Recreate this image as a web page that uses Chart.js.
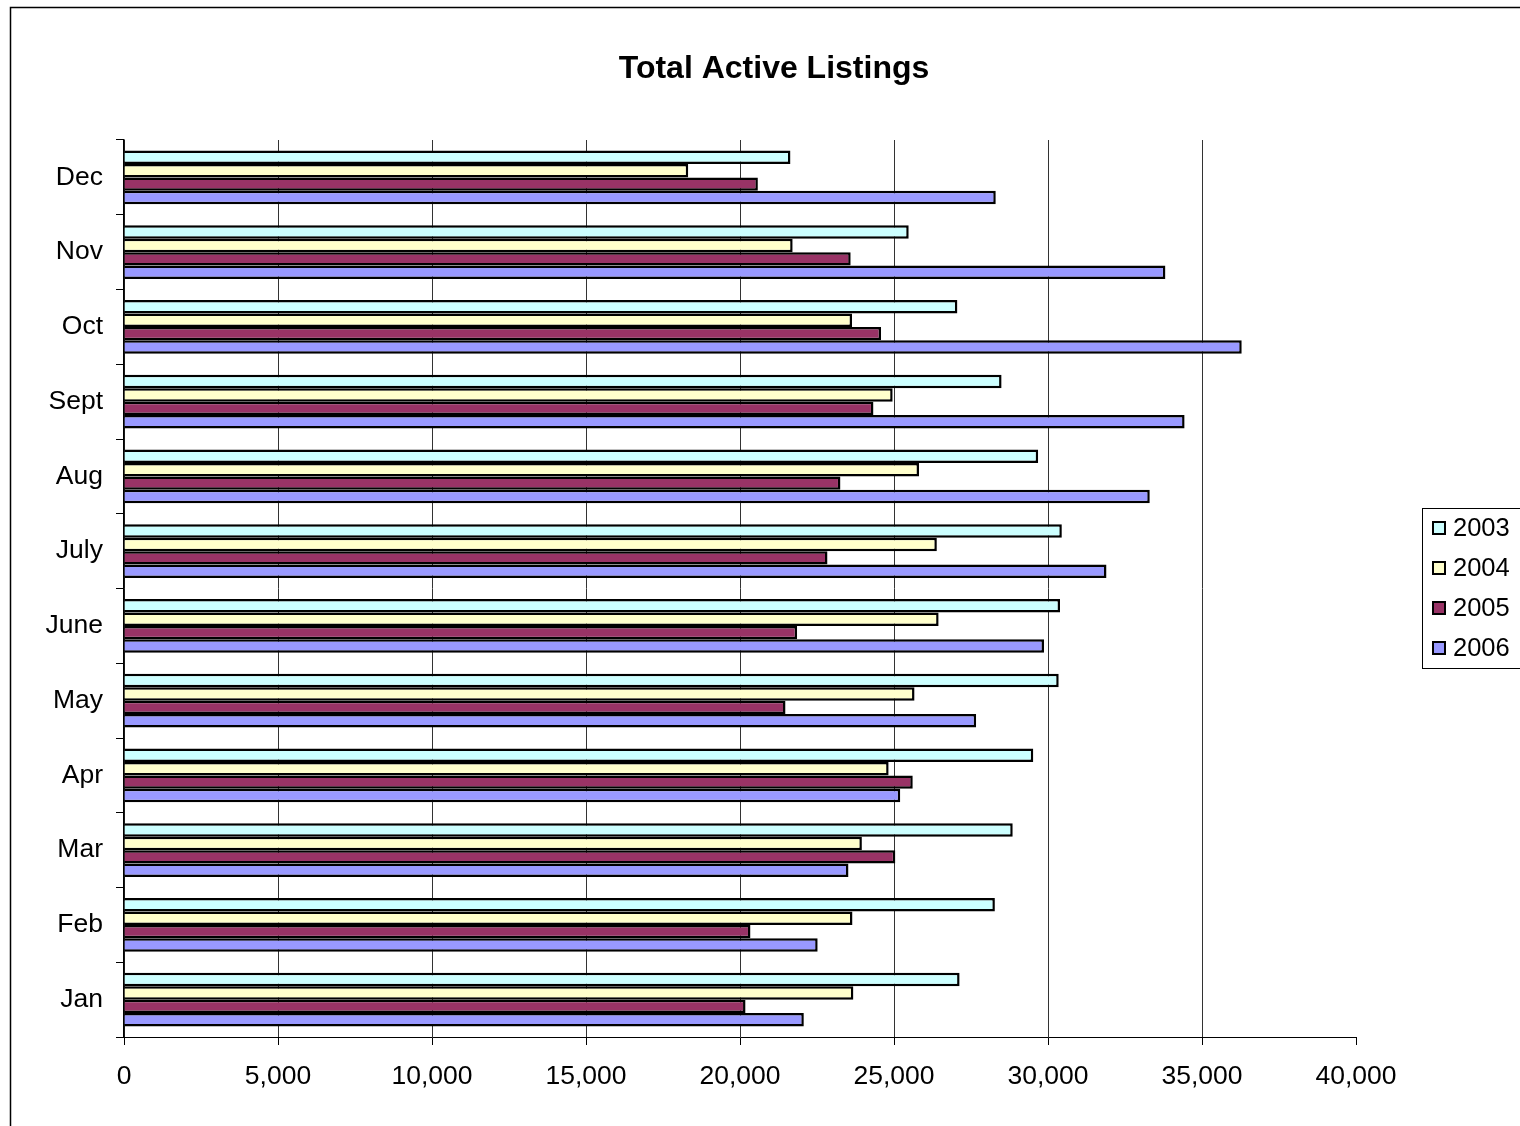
<!DOCTYPE html>
<html>
<head>
<meta charset="utf-8">
<script src="https://cdn.jsdelivr.net/npm/chart.js@4"></script>
<style>
  html, body { margin: 0; padding: 0; background: #fff; overflow: hidden; width: 1520px; height: 1126px; }
  #c { display: block; }
</style>
</head>
<body>
<canvas id="c" width="1548" height="1126"></canvas>
<script>
const months = ['Jan','Feb','Mar','Apr','May','June','July','Aug','Sept','Oct','Nov','Dec'];
const seriesNames = ['2003','2004','2005','2006'];
const v2003 = [27130, 28275, 28855, 29522, 30348, 30391, 30449, 29681, 28493, 27058, 25478, 21638];
const v2004 = [23681, 23652, 23957, 24826, 25667, 26449, 26391, 25812, 24957, 23638, 21710, 18319];
const v2005 = [20180, 20340, 25043, 25609, 21478, 21855, 22841, 23261, 24333, 24580, 23594, 20580];
const v2006 = [22072, 22522, 23522, 25203, 27667, 29870, 31899, 33304, 34435, 36290, 33812, 28304];
const xTicksMin = 0, xTicksMax = 40000, xTickStep = 5000;

const FONT = '"Liberation Sans", Arial, Helvetica, sans-serif';
const colors = ['#CCFFFF', '#FFFFCC', '#993366', '#9999FF'];

const framePlugin = {
  id: 'frame',
  beforeDraw(chart) {
    const ctx = chart.ctx;
    ctx.save();
    ctx.fillStyle = '#fff';
    ctx.fillRect(0, 0, chart.width, chart.height);
    ctx.strokeStyle = '#000';
    ctx.lineWidth = 1.5;
    ctx.strokeRect(10.5, 7.5, chart.width + 50, chart.height + 50);
    ctx.restore();
  }
};

const legendPlugin = {
  id: 'boxLegend',
  afterDraw(chart) {
    const ctx = chart.ctx;
    ctx.save();
    ctx.strokeStyle = '#000';
    ctx.lineWidth = 1;
    ctx.strokeRect(1422.5, 508.5, 200, 160);
    ctx.font = '25.5px ' + FONT;
    ctx.textBaseline = 'middle';
    ctx.textAlign = 'left';
    chart.data.datasets.forEach((ds, i) => {
      const cy = 528 + 40 * i;
      ctx.fillStyle = ds.backgroundColor;
      ctx.fillRect(1432, cy - 7, 14, 14);
      ctx.lineWidth = 2;
      ctx.strokeStyle = '#000';
      ctx.strokeRect(1433, cy - 6, 12, 12);
      ctx.fillStyle = '#000';
      ctx.fillText(ds.label, 1453, cy + 1);
    });
    ctx.restore();
  }
};

const seriesValues = [v2003, v2004, v2005, v2006];

new Chart(document.getElementById('c'), {
  type: 'bar',
  data: {
    labels: months,
    datasets: seriesNames.map((name, i) => ({
      label: name,
      data: seriesValues[i],
      backgroundColor: colors[i],
      borderColor: '#000',
      borderWidth: 2.5,
      borderSkipped: 'start',
      categoryPercentage: 0.72,
      barPercentage: 1.0
    }))
  },
  options: {
    indexAxis: 'y',
    responsive: false,
    animation: false,
    devicePixelRatio: 1,
    layout: { padding: 0 },
    plugins: {
      legend: { display: false },
      tooltip: { enabled: false },
      title: {
        display: true,
        text: 'Total Active Listings',
        color: '#000',
        font: { family: FONT, size: 32, weight: 'bold' },
        padding: { top: 50, bottom: 51.6 }
      }
    },
    scales: {
      x: {
        type: 'linear',
        min: xTicksMin,
        max: xTicksMax,
        ticks: {
          stepSize: xTickStep,
          padding: 16,
          color: '#000',
          font: { family: FONT, size: 26.5 },
          callback: v => Number(v).toLocaleString('en-US')
        },
        grid: {
          color: c => (c.tick && c.tick.value === xTicksMax) ? 'rgba(0,0,0,0)' : '#333',
          tickColor: '#000',
          tickLength: 8,
          lineWidth: 1
        },
        border: { color: '#000', width: 1 },
        afterFit: s => { s.height = 89; }
      },
      y: {
        type: 'category',
        reverse: true,
        offset: true,
        grid: { drawOnChartArea: false, offset: true, tickLength: 8, color: '#000' },
        border: { color: '#000', width: 1.5 },
        ticks: { padding: 13, color: '#000', font: { family: FONT, size: 26.5 } },
        afterFit: s => { s.width = 124; }
      },
      yR: {
        type: 'category',
        position: 'right',
        grid: { display: false },
        border: { display: false },
        ticks: { display: false },
        afterFit: s => { s.width = 192; }
      }
    }
  },
  plugins: [framePlugin, legendPlugin]
});
</script>
</body>
</html>
